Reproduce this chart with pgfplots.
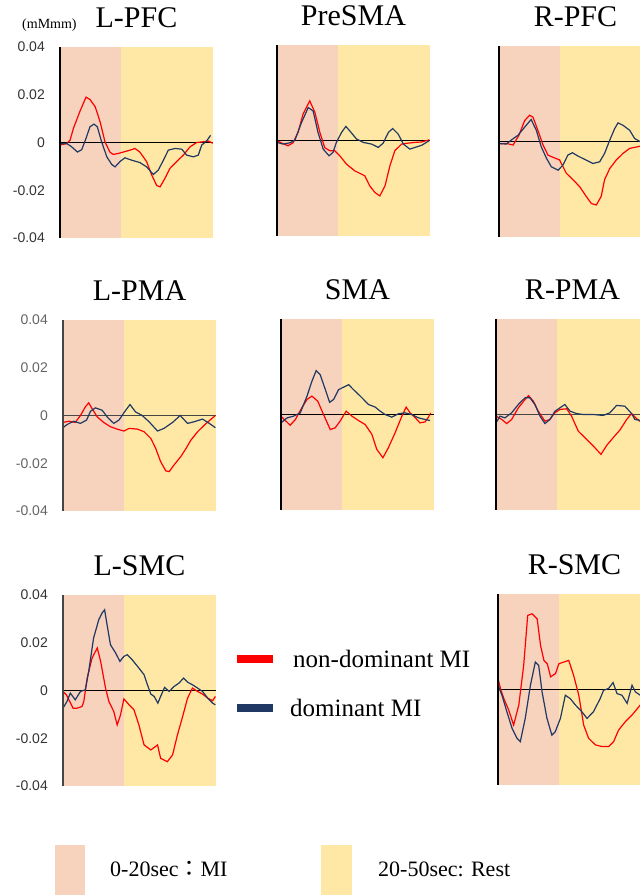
\documentclass[border=0pt]{standalone}
\usepackage{fontspec}
\setmainfont{Liberation Serif}
\newfontfamily\ticksf{Liberation Sans}
\newfontfamily\cjk{Noto Sans CJK JP}
\usepackage{pgfplots}
\pgfplotsset{compat=1.18}

\definecolor{pinkbg}{RGB}{247,210,188}
\definecolor{yellowbg}{RGB}{255,232,166}
\definecolor{nondom}{RGB}{255,0,0}
\definecolor{dom}{RGB}{31,56,100}
\definecolor{axgray}{RGB}{70,70,70}
\definecolor{tickgray}{RGB}{100,100,100}

\pgfplotsset{
  panel/.style={
    scale only axis, width=153pt, height=191pt,
    xmin=0, xmax=50, ymin=-0.04, ymax=0.04,
    axis line style={draw=none}, major tick length=0pt,
    xtick=\empty, ytick=\empty, clip=false,
    scaled y ticks=false,
    title style={at={(0.5,1)}, anchor=base, yshift=14pt,
      font=\fontsize{30}{30}\selectfont},
  },
  labels/.style={
    ytick={-0.04,-0.02,0,0.02,0.04},
    yticklabels={-0.04,-0.02,0,0.02,0.04},
    yticklabel style={font=\ticksf\fontsize{14}{14}\selectfont, text=#1,
      anchor=east, inner sep=0pt, xshift=-15pt},
  },
  red line/.style={nondom, line width=1.2pt, mark=none},
  blue line/.style={dom, line width=1.2pt, mark=none},
}

% background bands and zero line
\newcommand\bg[1]{%
  \fill[pinkbg] (axis cs:0,-0.04) rectangle (axis cs:20,0.04);
  \fill[yellowbg] (axis cs:20,-0.04) rectangle (axis cs:50,0.04);
  \draw[#1, line width=1.3pt] (axis cs:0,0) -- (axis cs:50,0);
}
\newcommand\yline[1]{%
  \draw[#1, line width=2pt] (axis cs:0,-0.04) -- (axis cs:0,0.04);
}

\begin{document}
\begin{tikzpicture}
\useasboundingbox (0,0) rectangle (640pt,895pt);
\clip (0,0) rectangle (640pt,895pt);

% ---------- row 1 ----------
\begin{axis}[panel, labels=black!80, at={(60pt,657pt)}, title={L-PFC}]
\bg{black}
\addplot[red line] coordinates {(0,-0.001)(2.2,-0.0005)(3.3,0.001)(4.4,0.006)(6.5,0.013)(8.5,0.019)(9.8,0.018)(11.5,0.015)(13.1,0.0087)(14.7,0.0003)(16.3,-0.004)(17.4,-0.005)(19,-0.0046)(20.7,-0.004)(22.9,-0.0032)(24.5,-0.0025)(26.1,-0.004)(28.3,-0.008)(30,-0.0137)(31.6,-0.018)(32.7,-0.0186)(34.3,-0.015)(35.9,-0.0109)(38.1,-0.008)(40.3,-0.0053)(42.5,-0.0018)(44.7,0)(46.8,0.0003)(48.5,0.0006)(49.9,-0.0003)};
\addplot[blue line] coordinates {(0,-0.0006)(2.2,-0.0004)(3.8,-0.0018)(5.7,-0.004)(7.1,-0.003)(8.5,0.0017)(9.8,0.0066)(11.1,0.0077)(12.2,0.0066)(13.6,0.0003)(15.3,-0.006)(16.9,-0.0092)(18,-0.0102)(19.6,-0.008)(21.2,-0.0064)(23.4,-0.0074)(26.1,-0.0084)(28.3,-0.0102)(30.5,-0.0134)(32.1,-0.0116)(33.8,-0.0074)(35.4,-0.0032)(37.6,-0.0025)(39.8,-0.0028)(41.4,-0.0053)(43.6,-0.006)(45.2,-0.0053)(46.3,-0.0011)(47.9,0.0006)(49.2,0.003)};
\yline{black}
\end{axis}

\begin{axis}[panel, at={(277pt,659pt)}, title={PreSMA}]
\bg{black}
\addplot[red line] coordinates {(0,0)(1.4,-0.001)(3.6,-0.0022)(5.2,-0.001)(6.9,0.0034)(8.5,0.011)(10.7,0.0166)(12.4,0.0117)(14,0.0034)(15.6,-0.003)(17.3,-0.0043)(18.9,-0.0043)(20.5,-0.0064)(22.7,-0.0099)(25.4,-0.0127)(28.7,-0.0148)(30.3,-0.019)(32,-0.0218)(33.6,-0.0232)(35.3,-0.019)(36.9,-0.0106)(38.5,-0.0043)(40.7,-0.0015)(42.9,-0.0011)(45.1,-0.0008)(47.3,-0.0006)(49.8,0.0003)};
\addplot[blue line] coordinates {(0,-0.0008)(2,-0.0015)(4.1,-0.001)(5.8,0)(8,0.0075)(10.2,0.0138)(11.8,0.0124)(13.4,0.0034)(15.1,-0.0036)(17,-0.0064)(18.3,-0.005)(19.4,-0.0008)(21.1,0.0034)(22.5,0.0059)(23.8,0.004)(26,0.0006)(28.2,-0.0008)(30.9,-0.0015)(33.1,-0.0029)(34.7,-0.0011)(36.4,0.0034)(37.8,0.005)(39.6,0.0027)(41.3,-0.0015)(43.4,-0.0036)(45.1,-0.0029)(47.3,-0.002)(49.8,0)};
\yline{black}
\end{axis}

\begin{axis}[panel, at={(499pt,658pt)}, title={R-PFC}]
\bg{black}
\addplot[red line] coordinates {(0,-0.001)(2.4,-0.0008)(4.6,-0.0015)(6.5,0.0026)(8.4,0.0088)(10,0.011)(11.1,0.0102)(12.7,0.0047)(14.4,-0.0015)(16,-0.0057)(17.6,-0.0066)(19.8,-0.0077)(22,-0.0133)(24.2,-0.016)(26.4,-0.019)(28.5,-0.023)(30.2,-0.026)(31.8,-0.0266)(33.4,-0.023)(34.5,-0.016)(36.2,-0.0113)(38.3,-0.0078)(40.5,-0.005)(42.7,-0.0029)(46,-0.002)(50,-0.001)};
\addplot[blue line] coordinates {(0,-0.0008)(2.4,-0.0011)(4,0.0006)(6.2,0.0026)(8.9,0.0068)(10.5,0.0092)(12.2,0.0047)(13.8,-0.0022)(15.5,-0.007)(17.1,-0.0106)(19.3,-0.012)(20.9,-0.0099)(22.5,-0.0057)(24,-0.0047)(25.8,-0.0061)(28.5,-0.0078)(30.7,-0.0092)(32.9,-0.0085)(34.5,-0.005)(36.2,0.0006)(37.8,0.0054)(38.9,0.0078)(40.5,0.0068)(42.7,0.0047)(44.3,0.0013)(46,0)(50,0)};
\yline{black}
\end{axis}

% ---------- row 2 ----------
\begin{axis}[panel, labels=tickgray, at={(63pt,384pt)}, title={L-PMA}]
\bg{axgray}
\addplot[red line] coordinates {(0,-0.0029)(1.9,-0.0024)(4,-0.0029)(5.7,0)(7.3,0.0036)(8.4,0.0053)(9.5,0.0029)(11.2,-0.0006)(13.3,-0.0029)(15.5,-0.0047)(17.7,-0.0057)(19.9,-0.0065)(21.6,-0.0054)(24.3,-0.0057)(26.5,-0.0068)(28.7,-0.0096)(30.3,-0.0138)(31.9,-0.0193)(33.6,-0.0232)(34.7,-0.0235)(36.3,-0.0207)(38.5,-0.0172)(40.2,-0.0138)(41.8,-0.0103)(44,-0.0068)(46.2,-0.004)(48.4,-0.0015)(49.8,0)};
\addplot[blue line] coordinates {(0,-0.0051)(1.3,-0.0038)(3.5,-0.0024)(5.7,-0.0033)(7.7,-0.0019)(9,0.0018)(10.6,0.0032)(12.8,0.0022)(14.7,-0.001)(16.6,-0.0033)(18.3,-0.0019)(20.1,0.0015)(21.9,0.0046)(23.7,0.0015)(25.9,0)(28.1,-0.0026)(30.9,-0.0065)(33,-0.0054)(35.8,-0.0029)(38.3,0)(40.7,-0.0033)(42.9,-0.0026)(45.6,-0.0015)(47.8,-0.0033)(49.8,-0.0051)};
\yline{axgray}
\end{axis}

\begin{axis}[panel, at={(281pt,385pt)}, title={SMA}]
\bg{black}
\addplot[red line] coordinates {(0,-0.0007)(1.4,-0.0025)(3,-0.0045)(4.7,-0.0021)(6.8,0.0028)(8.5,0.0063)(10.1,0.0077)(12,0.0056)(13.9,0)(16.1,-0.0063)(17.7,-0.0056)(19.3,-0.0028)(21.3,0.0014)(23.2,-0.0007)(25.3,-0.0025)(27.5,-0.0042)(29.7,-0.0083)(31.3,-0.0146)(33.3,-0.0181)(35.1,-0.0139)(37.3,-0.0076)(39.5,-0.0007)(40.9,0.0031)(42.2,0.0007)(43.9,-0.0014)(45.4,-0.0035)(47.1,-0.0031)(48.2,-0.0011)(48.9,0.0007)};
\addplot[blue line] coordinates {(0,-0.0035)(2,-0.0014)(4.1,-0.0007)(6.3,0.0007)(8.5,0.0077)(10.1,0.0139)(11.5,0.0184)(12.8,0.0167)(14.5,0.0104)(15.9,0.0051)(17.2,0.0063)(18.8,0.0104)(21,0.0118)(22.1,0.0125)(23.7,0.0104)(25.9,0.0077)(28.6,0.0042)(30.8,0.0031)(32.4,0.0014)(34,0)(36.2,-0.0011)(38.4,0.0003)(40.5,0.0007)(42.7,0)(44.9,-0.0014)(47.1,-0.0021)(48.7,-0.0025)};
\yline{black}
\end{axis}

\begin{axis}[panel, at={(496pt,385pt)}, title={R-PMA}]
\bg{axgray}
\addplot[red line] coordinates {(0,-0.0007)(1.9,-0.0021)(3.5,-0.0038)(5.1,-0.0021)(7.3,0.0028)(9.5,0.0063)(10.6,0.0079)(12.2,0.0056)(13.8,0.0014)(16,-0.0028)(17.6,-0.0021)(19.2,0.0007)(20.9,0.0021)(23.1,0.0024)(24.7,-0.0007)(26.9,-0.007)(29.6,-0.0104)(32.3,-0.0139)(34.3,-0.0167)(36.2,-0.0129)(38.3,-0.0097)(40.5,-0.0065)(42.7,-0.0021)(44.3,0.0004)(46,-0.0018)(47,-0.0028)(50,-0.002)};
\addplot[blue line] coordinates {(0,-0.0035)(1.3,-0.0007)(2.9,-0.0014)(5.1,0.0007)(7.3,0.0042)(9.5,0.007)(11.1,0.007)(12.7,0.0042)(14.4,-0.0007)(16,-0.0038)(17.6,-0.0021)(19.3,0.0014)(20.9,0.0028)(22.5,0.0042)(24.2,0.0014)(26.3,0.0004)(28.5,0)(31.8,0)(35,-0.0004)(37.2,0.0007)(39.4,0.0038)(42.1,0.0035)(44.3,0.0004)(45.4,-0.0021)(47,-0.0024)(50,-0.002)};
\yline{black}
\end{axis}

% ---------- row 3 ----------
\begin{axis}[panel, labels=black!80, at={(63pt,109pt)}, title={L-SMC}]
\bg{black}
\addplot[red line] coordinates {(0,-0.0004)(1.1,-0.0018)(2.2,-0.0046)(3.3,-0.0074)(4.6,-0.0074)(6.2,-0.0067)(6.8,-0.0046)(7.9,0.0052)(9.5,0.0136)(11.2,0.0178)(12.3,0.0122)(13.9,0.001)(15,-0.0046)(16.6,-0.0088)(17.7,-0.0144)(18.8,-0.0102)(19.9,-0.0035)(21.6,-0.006)(23.2,-0.0081)(24.8,-0.0144)(26.5,-0.0228)(28.7,-0.0249)(30.9,-0.0228)(31.9,-0.0284)(34.1,-0.0298)(35.8,-0.027)(37.4,-0.0186)(39.1,-0.0109)(40.7,-0.0032)(42.3,0.001)(44,-0.0004)(45.6,-0.0015)(47.3,-0.0032)(48.9,-0.0043)(49.8,-0.0025)};
\addplot[blue line] coordinates {(0,-0.0074)(1.3,-0.0046)(2.4,-0.0011)(4,-0.0039)(5.7,-0.0004)(7.3,0.0003)(8.4,0.008)(10,0.022)(11.7,0.0297)(12.8,0.0325)(13.6,0.0338)(14.4,0.0276)(15.5,0.0192)(17.2,0.0157)(18.6,0.0122)(19.9,0.0143)(21,0.015)(22.6,0.0129)(24.8,0.0094)(26.5,0.0066)(27.6,0.0024)(28.7,-0.0015)(29.8,-0.0025)(31,-0.0053)(31.9,-0.0025)(33.2,0.0013)(34.7,-0.0004)(36.3,0.0017)(37.9,0.0031)(39.4,0.0052)(40.7,0.0035)(42.3,0.0024)(44,0.001)(45.6,-0.0004)(47.3,-0.0032)(48.9,-0.0053)(49.8,-0.006)};
\yline{axgray}
\end{axis}

\begin{axis}[panel, at={(498pt,110pt)}, title={R-SMC}]
\bg{black}
\addplot[red line] coordinates {(0,0.0046)(0.8,0.0004)(1.9,-0.0038)(3.5,-0.0086)(5.1,-0.0149)(6.8,-0.0065)(8.4,0.0102)(9.7,0.031)(11.1,0.0317)(12.8,0.0296)(13.9,0.0185)(15,0.0122)(16.1,0.0108)(17.2,0.0053)(18.8,0.0067)(19.9,0.0108)(21.5,0.0115)(23.1,0.0122)(24.7,0.006)(26.4,-0.0024)(28,-0.0149)(29.6,-0.0204)(31.8,-0.0232)(34,-0.0239)(36.2,-0.0239)(37.8,-0.0218)(39.4,-0.017)(41.6,-0.0135)(43.8,-0.0107)(46.5,-0.0065)(50,-0.003)};
\addplot[blue line] coordinates {(0,0.0018)(1.3,-0.0024)(2.9,-0.0093)(4.6,-0.0163)(6.2,-0.0204)(7.3,-0.0218)(8.9,-0.0121)(10.6,0.0018)(12.2,0.0115)(13.3,0.0101)(14.4,-0.001)(16,-0.0121)(17.6,-0.0191)(18.7,-0.0177)(20.4,-0.0121)(22,-0.0024)(23.6,-0.0038)(25.3,-0.0065)(27.4,-0.0093)(29.1,-0.0121)(31.2,-0.0093)(33.4,-0.0038)(34.5,-0.0003)(36.1,0.0004)(37.6,0.0029)(38.9,-0.0017)(40.5,-0.0024)(42.2,-0.0058)(43.8,0.0018)(44.9,-0.001)(46.5,-0.0024)(50,-0.002)};
\yline{black}
\end{axis}

% unit label
\node[anchor=base west, inner sep=0pt, font=\fontsize{14}{14}\selectfont] at (22pt,866pt) {(mMmm)};

% line legend
\fill[nondom] (237pt,232pt) rectangle (273pt,240pt);
\node[anchor=base west, inner sep=0pt, font=\fontsize{25}{25}\selectfont] at (293pt,227pt) {non-dominant MI};
\fill[dom] (237pt,183pt) rectangle (273pt,191pt);
\node[anchor=base west, inner sep=0pt, font=\fontsize{25}{25}\selectfont] at (290pt,178pt) {dominant MI};

% band legend
\fill[pinkbg] (55pt,0pt) rectangle (85pt,50pt);
\node[anchor=base west, inner sep=0pt, font=\fontsize{22}{22}\selectfont] at (110pt,18pt) {0-20sec{\cjk ：}MI};
\fill[yellowbg] (321pt,0pt) rectangle (352pt,50pt);
\node[anchor=base west, inner sep=0pt, font=\fontsize{22}{22}\selectfont] at (378pt,18pt) {20-50sec: Rest};
\end{tikzpicture}
\end{document}
